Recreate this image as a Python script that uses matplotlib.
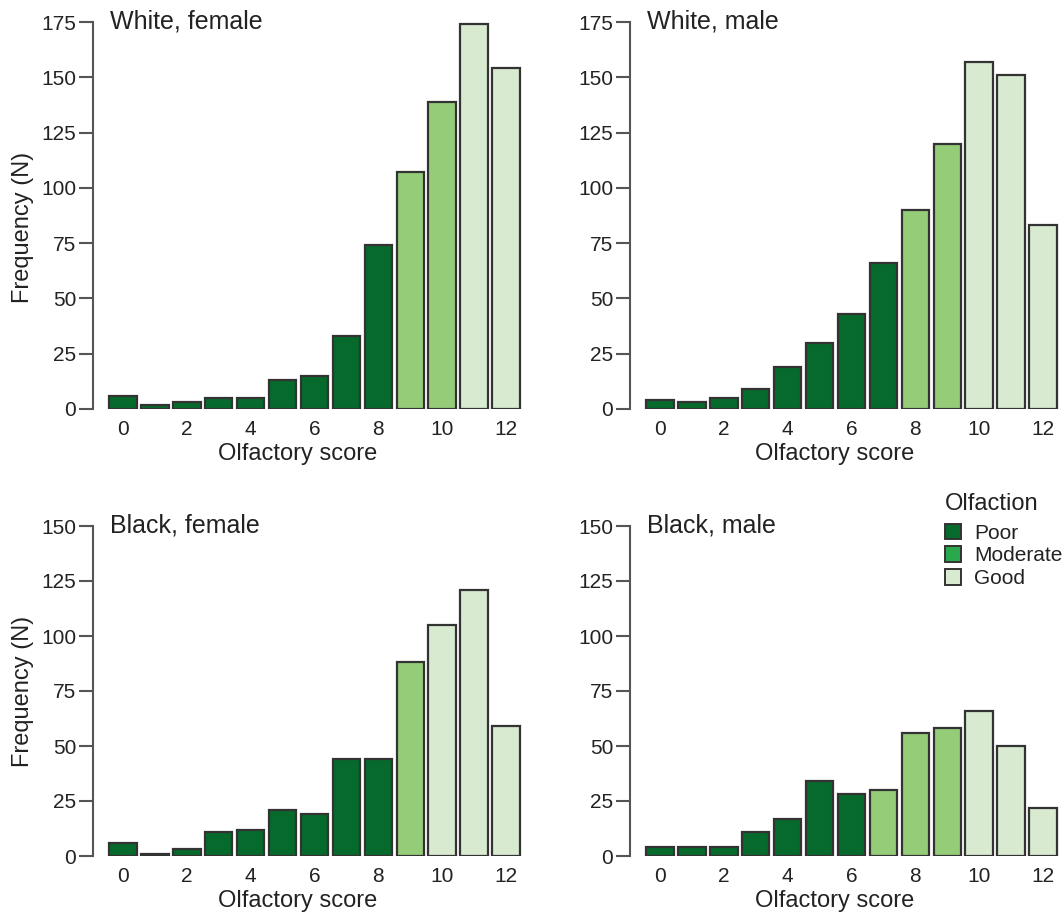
import matplotlib
matplotlib.use("Agg")
import matplotlib.pyplot as plt
from matplotlib.patches import Patch

plt.rcParams['font.family'] = ['Liberation Sans', 'DejaVu Sans']

scores = list(range(13))
white_female = [6, 2, 3, 5, 5, 13, 15, 33, 74, 107, 139, 174, 154]
white_male = [4, 3, 5, 9, 19, 30, 43, 66, 90, 120, 157, 151, 83]
black_female = [6, 1, 3, 11, 12, 21, 19, 44, 44, 88, 105, 121, 59]
black_male = [4, 4, 4, 11, 17, 34, 28, 30, 56, 58, 66, 50, 22]

# olfaction class per bar: 0 = Poor, 1 = Moderate, 2 = Good
white_female_cls = [0, 0, 0, 0, 0, 0, 0, 0, 0, 1, 1, 2, 2]
white_male_cls = [0, 0, 0, 0, 0, 0, 0, 0, 1, 1, 2, 2, 2]
black_female_cls = [0, 0, 0, 0, 0, 0, 0, 0, 0, 1, 2, 2, 2]
black_male_cls = [0, 0, 0, 0, 0, 0, 0, 1, 1, 1, 2, 2, 2]

titles = ["White, female", "White, male", "Black, female", "Black, male"]
legend_labels = ["Poor", "Moderate", "Good"]

bar_colors = ["#056a2b", "#95cc78", "#d8ead0"]
legend_colors = ["#056a2b", "#2aa84c", "#d8ead0"]
edge = "#333333"
spine_c = "#555555"
txt_c = "#222222"

fig = plt.figure(figsize=(10.64, 9.17), dpi=100)
W, H = 1064, 917

panels = [
    (white_female, white_female_cls, titles[0], 93, 22, 409, 175, True, 0.468),
    (white_male, white_male_cls, titles[1], 630, 22, 409, 175, False, 0.5),
    (black_female, black_female_cls, titles[2], 93, 526, 856, 150, True, 0.5),
    (black_male, black_male_cls, titles[3], 630, 526, 856, 150, False, 0.5),
]

for vals, cls, title, lx, ty, by, ymax, ylab, ylab_y in panels:
    ax = fig.add_axes([lx / W, 1 - by / H, 429 / W, (by - ty) / H])
    cols = [bar_colors[c] for c in cls]
    ax.bar(scores, vals, width=0.86, color=cols, edgecolor=edge, linewidth=1.6)
    ax.set_xlim(-0.94, 12.5)
    ax.set_ylim(0, ymax)
    ax.set_yticks(range(0, ymax + 1, 25))
    ax.set_xticks(range(0, 13, 2))
    for s in ["top", "right", "bottom"]:
        ax.spines[s].set_visible(False)
    ax.spines["left"].set_color(spine_c)
    ax.spines["left"].set_linewidth(1.5)
    ax.tick_params(axis="y", length=10, width=1.5, color=spine_c,
                   labelsize=15, labelcolor=txt_c, pad=2)
    ax.tick_params(axis="x", length=0, labelsize=15, labelcolor=txt_c, pad=8)
    ax.set_xlabel("Olfactory score", fontsize=17, color=txt_c, labelpad=3)
    ax.xaxis.label.set_x(0.476)
    if ylab:
        ax.set_ylabel("Frequency (N)", fontsize=17, color=txt_c, labelpad=5)
        ax.yaxis.label.set_y(ylab_y)
    ax.text(0.04, 1.0, title, transform=ax.transAxes, fontsize=18,
            color=txt_c, va="center", ha="left")

handles = [Patch(facecolor=legend_colors[i], edgecolor=edge, linewidth=1.4,
                 label=legend_labels[i]) for i in range(3)]
leg = fig.legend(handles=handles, title="Olfaction", loc="upper left",
                 bbox_to_anchor=(941 / W, 1 - 489 / H), frameon=False,
                 fontsize=15, title_fontsize=17, handlelength=0.78,
                 handleheight=0.78, handletextpad=0.6, labelspacing=0.18,
                 borderpad=0.2, borderaxespad=0)
leg._legend_box.align = "left"
leg._legend_box.sep = 6
for t in leg.get_texts():
    t.set_color(txt_c)
leg.get_title().set_color(txt_c)

fig.savefig("out.png", dpi=100)
